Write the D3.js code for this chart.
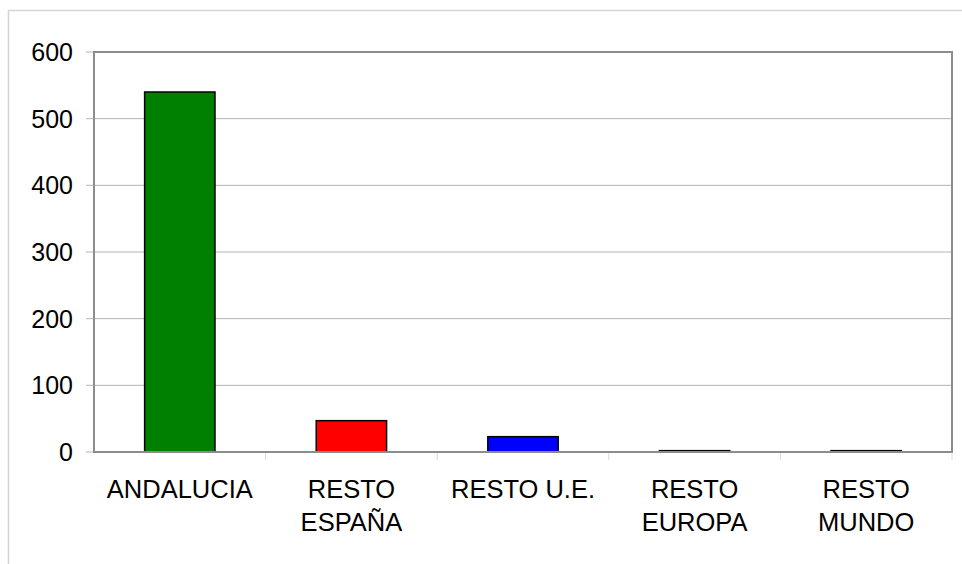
<!DOCTYPE html>
<html>
<head>
<meta charset="utf-8">
<script src="https://cdn.jsdelivr.net/npm/d3@7"></script>
<style>
  body { margin: 0; background: #fff; }
  svg text { font-family: "Liberation Sans", Arial, sans-serif; fill: #000; }
</style>
</head>
<body>
<div id="chart"></div>
<script>
var categories = ['ANDALUCIA', 'RESTO ESPAÑA', 'RESTO U.E.', 'RESTO EUROPA', 'RESTO MUNDO'];
var labelLines = [['ANDALUCIA'], ['RESTO', 'ESPAÑA'], ['RESTO U.E.'], ['RESTO', 'EUROPA'], ['RESTO', 'MUNDO']];
var values = [540, 47, 23, 2, 2];
var colors = ['#008000', '#ff0000', '#0000ff', '#000080', '#000080'];
var yTicks = [0, 100, 200, 300, 400, 500, 600];

var width = 962;
var height = 564;
var margin = { left: 94, top: 52, right: 10, bottom: 112 };
var plotW = width - margin.left - margin.right;
var plotH = height - margin.top - margin.bottom;

var svg = d3.select('#chart')
    .append('svg')
    .attr('width', width)
    .attr('height', height);

// outer frame
svg.append('rect')
    .attr('x', 8.5)
    .attr('y', 10.5)
    .attr('width', 1000)
    .attr('height', 1000)
    .attr('fill', 'none')
    .attr('stroke', '#d4d4d4')
    .attr('stroke-width', 1.5);

var g = svg.append('g')
    .attr('transform', 'translate(' + margin.left + ',' + margin.top + ')');

var x = d3.scaleBand()
    .domain(categories)
    .range([0, plotW])
    .paddingInner(0.59)
    .paddingOuter(0.295);

var xCat = d3.scaleBand()
    .domain(categories)
    .range([0, plotW]);

var y = d3.scaleLinear()
    .domain([0, 600])
    .range([plotH, 0]);

// gridlines
g.selectAll('.grid')
    .data(yTicks)
    .enter()
    .append('line')
    .attr('x1', -8)
    .attr('x2', plotW)
    .attr('y1', function(d) { return y(d); })
    .attr('y2', function(d) { return y(d); })
    .attr('stroke', '#b3b3b3')
    .attr('stroke-width', 1);

// y labels
g.selectAll('.ylabel')
    .data(yTicks)
    .enter()
    .append('text')
    .attr('x', -21)
    .attr('y', function(d) { return y(d); })
    .attr('dy', '0.36em')
    .attr('text-anchor', 'end')
    .style('font-size', '25px')
    .text(function(d) { return d; });

// category ticks
g.selectAll('.xtick')
    .data(categories)
    .enter()
    .append('line')
    .attr('x1', function(d) { return xCat(d) + xCat.bandwidth(); })
    .attr('x2', function(d) { return xCat(d) + xCat.bandwidth(); })
    .attr('y1', plotH)
    .attr('y2', plotH + 8)
    .attr('stroke', '#d9d9d9')
    .attr('stroke-width', 1);

// bars
g.selectAll('.bar')
    .data(values)
    .enter()
    .append('rect')
    .attr('x', function(d, i) { return x(categories[i]); })
    .attr('y', function(d) { return y(d); })
    .attr('width', x.bandwidth())
    .attr('height', function(d) { return plotH - y(d); })
    .attr('fill', function(d, i) { return colors[i]; })
    .attr('stroke', '#000')
    .attr('stroke-width', 1.5);

// plot border
g.append('rect')
    .attr('x', 0)
    .attr('y', 0)
    .attr('width', plotW)
    .attr('height', plotH)
    .attr('fill', 'none')
    .attr('stroke', '#8c8c8c')
    .attr('stroke-width', 2);

// category labels
var lab = g.selectAll('.xlabel')
    .data(categories)
    .enter()
    .append('text')
    .attr('text-anchor', 'middle')
    .style('font-size', '25.5px')
    .attr('transform', function(d) {
        return 'translate(' + (xCat(d) + xCat.bandwidth() / 2) + ',' + (plotH + 46) + ')';
    });

lab.selectAll('tspan')
    .data(function(d, i) { return labelLines[i]; })
    .enter()
    .append('tspan')
    .attr('x', 0)
    .attr('y', function(d, i) { return i * 33; })
    .text(function(d) { return d; });
</script>
</body>
</html>
